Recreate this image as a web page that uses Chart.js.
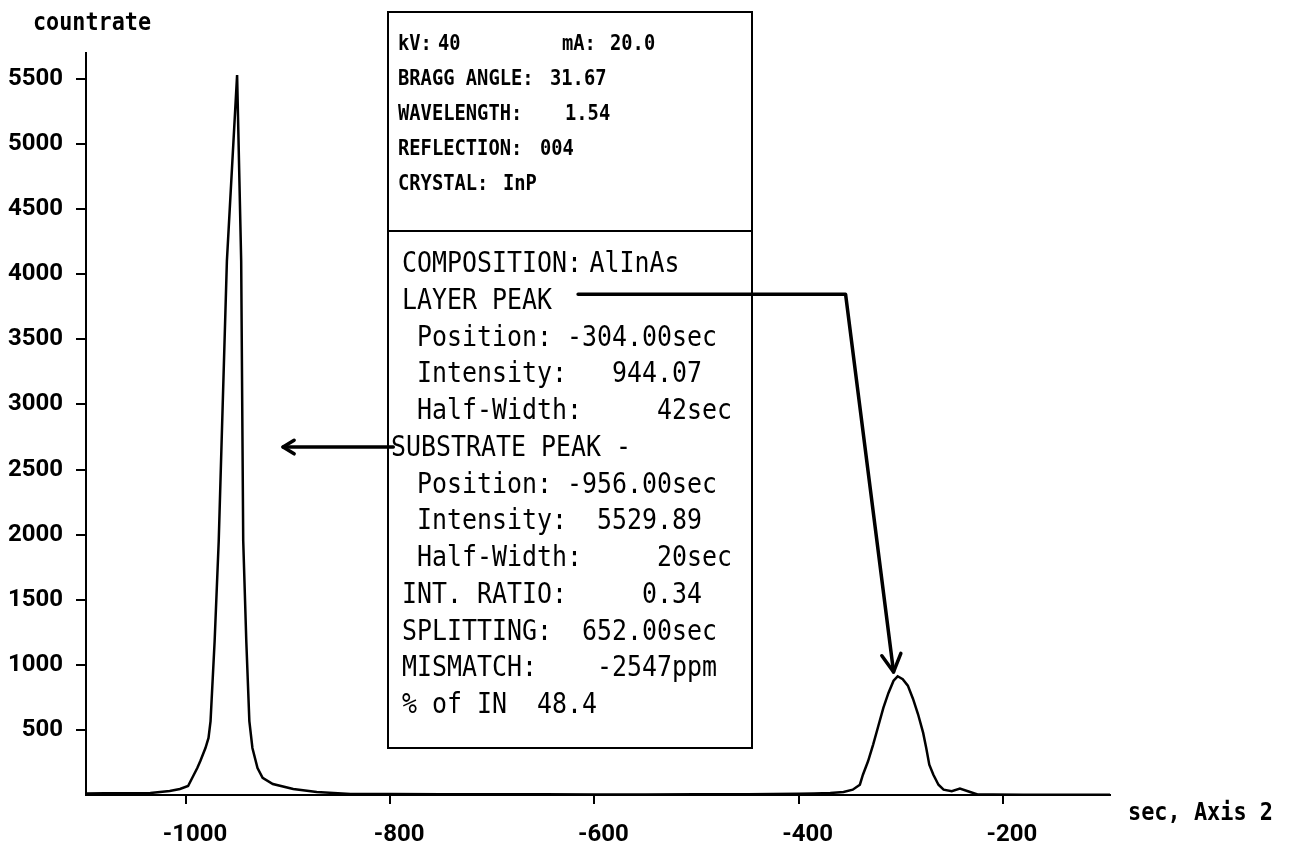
<!DOCTYPE html>
<html>
<head>
<meta charset="utf-8">
<title>Rocking curve AlInAs on InP</title>
<style>
  html, body { margin: 0; padding: 0; background: #fff; }
  #wrap { width: 1290px; height: 854px; position: relative; }
</style>
<script src="https://cdn.jsdelivr.net/npm/chart.js@4.4.0/dist/chart.umd.min.js"></script>
</head>
<body>
<div id="wrap"><canvas id="rocking-curve" width="1290" height="854"></canvas></div>
<script>
// ── Data (angle in sec, countrate) ────────────────────────────────────
var angleSec = [-1098, -1080, -1060, -1045, -1035, -1016, -1006, -998, -994, -989,
  -986, -981, -978, -976, -972, -968, -960, -950, -946, -944,
  -941, -938, -935, -930, -925, -915, -895, -872, -839, -800,
  -750, -700, -650, -600, -550, -500, -450, -400, -385, -369,
  -356, -347, -340, -337, -332, -327, -322, -317, -312, -307,
  -303, -298, -293, -288, -283, -278, -275, -272, -268, -263,
  -258, -250, -242, -232, -224, -210, -180, -150, -120, -95];
var countRate = [12, 13, 14, 14, 15, 31, 46, 69, 131, 207,
  261, 361, 438, 568, 1183, 1951, 4101, 5530, 4101, 1951,
  1183, 568, 361, 207, 131, 84, 46, 23, 8, 7,
  6, 5, 5, 4, 4, 5, 6, 9, 12, 16,
  23, 41, 79, 156, 259, 387, 528, 669, 784, 878,
  912, 890, 840, 740, 620, 477, 361, 233, 156, 79,
  41, 29, 49, 23, 3, 3, 2, 2, 2, 2];

var xTickValues = [-1000, -800, -600, -400, -200];
var yTickValues = [500, 1000, 1500, 2000, 2500, 3000, 3500, 4000, 4500, 5000, 5500];

// measurement settings panel: [text, left px]
var setupLines = [
  [['kV:', 398], ['40', 438], ['mA:', 562], ['20.0', 610]],
  [['BRAGG ANGLE:', 398], ['31.67', 550]],
  [['WAVELENGTH:', 398], ['1.54', 565]],
  [['REFLECTION:', 398], ['004', 540]],
  [['CRYSTAL:', 398], ['InP', 503]]
];
var resultLines = [
  'COMPOSITION:',
  'LAYER PEAK',
  ' Position: -304.00sec',
  ' Intensity:   944.07',
  ' Half-Width:     42sec',
  'SUBSTRATE PEAK -',
  ' Position: -956.00sec',
  ' Intensity:  5529.89',
  ' Half-Width:     20sec',
  'INT. RATIO:     0.34',
  'SPLITTING:  652.00sec',
  'MISMATCH:    -2547ppm',
  '% of IN  48.4'
];
var compositionValue = 'AlInAs';

// annotation arrows, in data units
var substrateArrow = [[-797, 2673], [-905, 2673]];
var layerArrow = [[-616, 3846], [-354, 3846], [-307, 945]];

var points = angleSec.map(function (a, i) { return { x: a, y: countRate[i] }; });

// ── Helpers ──────────────────────────────────────────────────────────
function fitText(ctx, text, x, y, font, width) {
  ctx.save();
  ctx.font = font;
  var w = ctx.measureText(text).width;
  ctx.translate(x, y);
  ctx.scale(width / w, 1);
  ctx.fillText(text, 0, 0);
  ctx.restore();
}

// monospace text squeezed to a fixed character advance
function monoText(ctx, text, x, y, font, advance) {
  ctx.save();
  ctx.font = font;
  var w = ctx.measureText('M').width;
  ctx.translate(x, y);
  ctx.scale(advance / w, 1);
  ctx.fillText(text, 0, 0);
  ctx.restore();
}

function drawArrow(ctx, pts, head, spread) {
  ctx.beginPath();
  ctx.moveTo(pts[0][0], pts[0][1]);
  for (var i = 1; i < pts.length; i++) ctx.lineTo(pts[i][0], pts[i][1]);
  ctx.stroke();
  var a = pts[pts.length - 2], b = pts[pts.length - 1];
  var ang = Math.atan2(b[1] - a[1], b[0] - a[0]);
  ctx.beginPath();
  ctx.moveTo(b[0] - head * Math.cos(ang - spread), b[1] - head * Math.sin(ang - spread));
  ctx.lineTo(b[0], b[1]);
  ctx.lineTo(b[0] - head * Math.cos(ang + spread), b[1] - head * Math.sin(ang + spread));
  ctx.stroke();
}

// ── Overlay: info panel, arrows, axis titles ─────────────────────────
var overlayPlugin = {
  id: 'overlay',
  afterDraw: function (chart) {
    var ctx = chart.ctx;
    var xs = chart.scales.x, ys = chart.scales.y;
    ctx.save();
    ctx.fillStyle = '#000';
    ctx.strokeStyle = '#000';
    ctx.textBaseline = 'alphabetic';
    ctx.textAlign = 'left';

    // axis titles
    fitText(ctx, 'countrate', 33, 30, 'bold 24px "DejaVu Sans Mono"', 118);
    fitText(ctx, 'sec, Axis 2', 1128, 820, 'bold 25px "DejaVu Sans Mono"', 145);

    // panel
    ctx.fillStyle = '#fff';
    ctx.fillRect(388, 12, 364, 736);
    ctx.fillStyle = '#000';
    ctx.lineWidth = 2;
    ctx.strokeRect(388, 12, 364, 736);
    ctx.beginPath();
    ctx.moveTo(388, 231);
    ctx.lineTo(752, 231);
    ctx.stroke();

    setupLines.forEach(function (line, i) {
      var base = 50 + i * 35;
      line.forEach(function (seg) {
        monoText(ctx, seg[0], seg[1], base, 'bold 21px "DejaVu Sans Mono"', 11.3);
      });
    });

    var monoFont = '28px "DejaVu Sans Mono"';
    resultLines.forEach(function (txt, i) {
      var base = 272 + i * 36.75;
      var x0 = txt.indexOf('SUBSTRATE') === 0 ? 391 : 402;
      monoText(ctx, txt, x0, base, monoFont, 15);
    });
    monoText(ctx, compositionValue, 402 + 12.5 * 15, 272, monoFont, 15);

    // arrows
    ctx.lineWidth = 3.5;
    ctx.lineCap = 'round';
    ctx.lineJoin = 'round';
    var toPx = function (p) { return [xs.getPixelForValue(p[0]), ys.getPixelForValue(p[1])]; };
    drawArrow(ctx, substrateArrow.map(toPx), 13, 0.55);
    drawArrow(ctx, layerArrow.map(toPx), 20, 0.5);
    ctx.restore();
  }
};

// ── Chart ────────────────────────────────────────────────────────────
var tickFont = { family: 'Roboto', size: 24, weight: 'bold' };

new Chart(document.getElementById('rocking-curve'), {
  type: 'line',
  data: {
    datasets: [{
      label: 'countrate',
      data: points,
      borderColor: '#000',
      borderWidth: 2.5,
      pointRadius: 0,
      fill: false,
      tension: 0
    }]
  },
  options: {
    responsive: false,
    animation: false,
    parsing: false,
    layout: { padding: { top: 53, right: 180, left: 0, bottom: 0 } },
    plugins: { legend: { display: false }, tooltip: { enabled: false } },
    scales: {
      x: {
        type: 'linear',
        min: -1098,
        max: -95,
        afterBuildTicks: function (axis) {
          axis.ticks = xTickValues.map(function (v) { return { value: v }; });
        },
        afterFit: function (axis) { axis.height = 59; },
        grid: { drawOnChartArea: false, drawTicks: true, tickLength: 9, color: '#000', lineWidth: 2 },
        border: { display: true, color: '#000', width: 2 },
        ticks: {
          color: '#000',
          font: tickFont,
          padding: 17,
          labelOffset: 9,
          maxRotation: 0,
          autoSkip: false,
          callback: function (v) { return String(v); }
        }
      },
      y: {
        type: 'linear',
        min: 0,
        max: 5700,
        afterBuildTicks: function (axis) {
          axis.ticks = yTickValues.map(function (v) { return { value: v }; });
        },
        afterFit: function (axis) { axis.width = 86; },
        grid: { drawOnChartArea: false, drawTicks: true, tickLength: 10, color: '#000', lineWidth: 2 },
        border: { display: true, color: '#000', width: 2 },
        ticks: {
          color: '#000',
          font: tickFont,
          padding: 13,
          autoSkip: false,
          callback: function (v) { return String(v); }
        }
      }
    }
  },
  plugins: [overlayPlugin]
});
</script>
</body>
</html>
